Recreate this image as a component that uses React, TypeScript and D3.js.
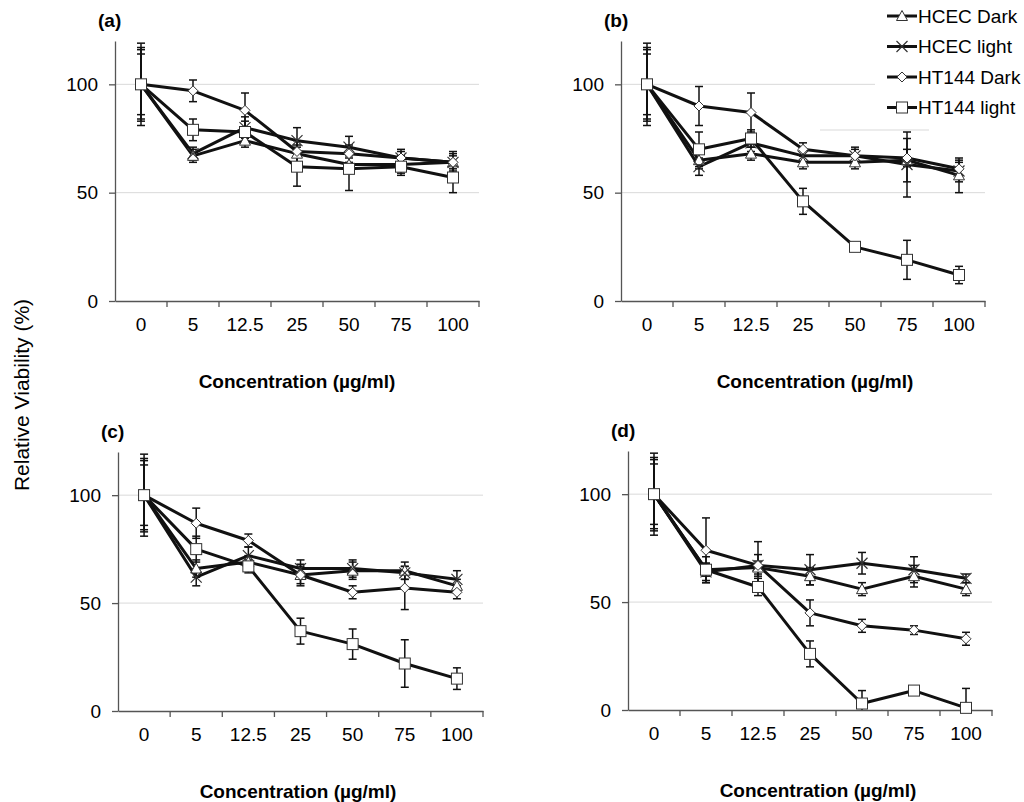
import { useRef, useEffect } from "react";
import * as d3 from "d3";

// ── Data ──────────────────────────────────────────────────────────────────────

const categories = ["0", "5", "12.5", "25", "50", "75", "100"];
const seriesNames = ["HCEC Dark", "HCEC light", "HT144 Dark", "HT144 light"];
const markerKinds = ["triangle", "cross", "diamond", "square"];

const valuesA = [
  [100, 67, 74, 68, 63, 63, 64],
  [100, 68, 80, 74, 71, 66, 64],
  [100, 97, 88, 69, 68, 66, 64],
  [100, 79, 78, 62, 61, 62, 57],
];
const errorsA = [
  [14, 3, 3, 4, 4, 4, 3],
  [17, 3, 5, 6, 5, 4, 5],
  [19, 5, 8, 5, 4, 3, 4],
  [16, 5, 5, 9, 10, 4, 7],
];

const valuesB = [
  [100, 65, 68, 64, 64, 65, 58],
  [100, 62, 73, 67, 67, 63, 60],
  [100, 90, 87, 70, 67, 66, 61],
  [100, 70, 75, 46, 25, 19, 12],
];
const errorsB = [
  [14, 4, 3, 3, 3, 10, 8],
  [17, 4, 4, 3, 4, 15, 5],
  [19, 9, 9, 3, 3, 4, 3],
  [16, 8, 4, 6, 1, 9, 4],
];

const valuesC = [
  [100, 66, 69, 63, 65, 65, 58],
  [100, 62, 72, 66, 66, 64, 61],
  [100, 87, 79, 63, 55, 57, 55],
  [100, 75, 67, 37, 31, 22, 15],
];
const errorsC = [
  [14, 4, 3, 4, 4, 4, 3],
  [17, 4, 4, 4, 4, 3, 4],
  [19, 7, 3, 5, 3, 10, 3],
  [16, 6, 3, 6, 7, 11, 5],
];

const valuesD = [
  [100, 65, 66, 62, 56, 62, 56],
  [100, 64, 67, 65, 68, 65, 61],
  [100, 74, 67, 45, 39, 37, 33],
  [100, 65, 57, 26, 3, 9, 1],
];
const errorsD = [
  [14, 3, 3, 4, 3, 5, 3],
  [17, 4, 5, 7, 5, 6, 2],
  [19, 15, 11, 6, 3, 2, 3],
  [16, 6, 4, 6, 6, 2, 9],
];

const yTicks = [0, 50, 100];
const Y_MAX = 120;

// ── Layout ────────────────────────────────────────────────────────────────────

const W = 1024;
const H = 802;
const FONT = "'Liberation Sans', Arial, sans-serif";

const PANELS = [
  { label: "(a)", values: valuesA, errors: errorsA, left: 115, right: 479, top: 41, bottom: 301, gridEnd100: 479, titleX: 297 },
  { label: "(b)", values: valuesB, errors: errorsB, left: 621, right: 985, top: 41, bottom: 301, gridEnd100: 875, titleX: 815 },
  { label: "(c)", values: valuesC, errors: errorsC, left: 118, right: 483, top: 452, bottom: 711, gridEnd100: 483, titleX: 298 },
  { label: "(d)", values: valuesD, errors: errorsD, left: 628, right: 992, top: 451, bottom: 710, gridEnd100: 992, titleX: 818 },
];

// ── Markers ───────────────────────────────────────────────────────────────────

function drawMarker(g: d3.Selection<SVGGElement, unknown, null, undefined>, kind: string, cx: number, cy: number) {
  const stroke = "#333";
  if (kind === "triangle") {
    g.append("path")
      .attr("d", `M${cx},${cy - 5.5} L${cx + 5.5},${cy + 4.5} L${cx - 5.5},${cy + 4.5} Z`)
      .attr("fill", "#fff").attr("stroke", stroke).attr("stroke-width", 1);
  } else if (kind === "cross") {
    g.append("path")
      .attr("d", `M${cx - 5.5},${cy - 5.5} L${cx + 5.5},${cy + 5.5} M${cx - 5.5},${cy + 5.5} L${cx + 5.5},${cy - 5.5}`)
      .attr("fill", "none").attr("stroke", stroke).attr("stroke-width", 1.2);
  } else if (kind === "diamond") {
    g.append("path")
      .attr("d", `M${cx},${cy - 5} L${cx + 5},${cy} L${cx},${cy + 5} L${cx - 5},${cy} Z`)
      .attr("fill", "#fff").attr("stroke", stroke).attr("stroke-width", 1);
  } else {
    g.append("rect")
      .attr("x", cx - 5.5).attr("y", cy - 5.5).attr("width", 11).attr("height", 11)
      .attr("fill", "#fff").attr("stroke", stroke).attr("stroke-width", 1);
  }
}

// ── Panel ─────────────────────────────────────────────────────────────────────

function renderPanel(root: d3.Selection<SVGSVGElement, unknown, null, undefined>, p: (typeof PANELS)[number]) {
  const x = d3.scaleBand().domain(categories).range([p.left, p.right]).padding(0);
  const y = d3.scaleLinear().domain([0, Y_MAX]).range([p.bottom, p.top]);
  const g = root.append("g");

  // Grid lines
  g.append("line")
    .attr("x1", p.left).attr("x2", p.right)
    .attr("y1", y(50)).attr("y2", y(50))
    .attr("stroke", "#d9d9d9").attr("stroke-width", 1);
  g.append("line")
    .attr("x1", p.left).attr("x2", p.gridEnd100)
    .attr("y1", y(100)).attr("y2", y(100))
    .attr("stroke", "#d9d9d9").attr("stroke-width", 1);

  // Y axis
  g.append("g")
    .attr("transform", `translate(${p.left},0)`)
    .call(d3.axisLeft(y).tickValues(yTicks).tickSize(6).tickSizeOuter(0).tickPadding(11))
    .call((ax) => ax.selectAll("path,line").attr("stroke", "#555").attr("stroke-width", 1.3))
    .selectAll("text")
    .attr("fill", "#000")
    .attr("font-size", 19)
    .attr("font-family", FONT);

  // X axis labels (band centres) + ticks at band edges
  g.append("g")
    .attr("transform", `translate(0,${p.bottom})`)
    .call(d3.axisBottom(x).tickSize(0).tickSizeOuter(0).tickPadding(17))
    .call((ax) => ax.select(".domain").attr("stroke", "#555").attr("stroke-width", 1.3))
    .selectAll("text")
    .attr("fill", "#000")
    .attr("font-size", 19)
    .attr("font-family", FONT);

  const edges = [...categories.map((c) => x(c) as number), p.right];
  g.selectAll(".xtick")
    .data(edges.slice(1))
    .join("line")
    .attr("x1", (d) => d).attr("x2", (d) => d)
    .attr("y1", p.bottom).attr("y2", p.bottom + 6)
    .attr("stroke", "#555").attr("stroke-width", 1.3);

  const cx = (i: number) => (x(categories[i]) as number) + x.bandwidth() / 2;

  // Error bars
  p.values.forEach((vals, s) => {
    vals.forEach((v, i) => {
      const e = p.errors[s][i];
      const lo = Math.max(0, v - e);
      const hi = v + e;
      const xc = cx(i);
      g.append("line").attr("x1", xc).attr("x2", xc).attr("y1", y(lo)).attr("y2", y(hi))
        .attr("stroke", "#111").attr("stroke-width", 1.5);
      [lo, hi].forEach((b) => {
        if (b === 0) return;
        g.append("line").attr("x1", xc - 4).attr("x2", xc + 4).attr("y1", y(b)).attr("y2", y(b))
          .attr("stroke", "#111").attr("stroke-width", 1.5);
      });
    });
  });

  // Lines
  const line = d3.line<number>().x((_, i) => cx(i)).y((d) => y(d));
  p.values.forEach((vals) => {
    g.append("path").attr("d", line(vals)).attr("fill", "none")
      .attr("stroke", "#111").attr("stroke-width", 3).attr("stroke-linejoin", "round");
  });

  // Markers
  p.values.forEach((vals, s) => {
    vals.forEach((v, i) => drawMarker(g, markerKinds[s], cx(i), y(v)));
  });

  // Axis title + panel label
  g.append("text")
    .attr("x", p.titleX).attr("y", p.bottom + 87)
    .attr("text-anchor", "middle").attr("font-size", 19).attr("font-weight", "bold")
    .attr("font-family", FONT).attr("fill", "#000")
    .text("Concentration (µg/ml)");
  g.append("text")
    .attr("x", p.left - 17).attr("y", p.top - 14)
    .attr("font-size", 19).attr("font-weight", "bold")
    .attr("font-family", FONT).attr("fill", "#000")
    .text(p.label);
}

function renderChart(svg: SVGSVGElement): void {
  const root = d3.select(svg);
  root.selectAll("*").remove();
  root.append("rect").attr("width", W).attr("height", H).attr("fill", "#fff");

  PANELS.forEach((p) => renderPanel(root, p));

  // stray grid fragment under the legend in (b)
  root.append("line").attr("x1", 820).attr("x2", 929).attr("y1", 130).attr("y2", 130)
    .attr("stroke", "#d9d9d9").attr("stroke-width", 1);

  // Legend
  const lg = root.append("g");
  seriesNames.forEach((name, i) => {
    const ly = 16 + i * 30.5;
    lg.append("line").attr("x1", 887).attr("x2", 917).attr("y1", ly).attr("y2", ly)
      .attr("stroke", "#111").attr("stroke-width", 3);
    drawMarker(lg, markerKinds[i], 902, ly);
    lg.append("text").attr("x", 918).attr("y", ly).attr("dy", "0.35em")
      .attr("font-size", 19).attr("font-family", FONT).attr("fill", "#000")
      .text(name);
  });

  // Shared y title
  root.append("text")
    .attr("transform", "translate(29,395) rotate(-90)")
    .attr("text-anchor", "middle").attr("font-size", 21)
    .attr("font-family", FONT).attr("fill", "#000")
    .text("Relative Viability (%)");
}

// ── Component ─────────────────────────────────────────────────────────────────

export default function App() {
  const svgRef = useRef<SVGSVGElement>(null);

  useEffect(() => {
    if (!svgRef.current) return;
    renderChart(svgRef.current);
  }, []);

  return (
    <svg
      ref={svgRef}
      width={W}
      height={H}
      style={{ position: "absolute", left: 0, top: 0, display: "block" }}
    />
  );
}
